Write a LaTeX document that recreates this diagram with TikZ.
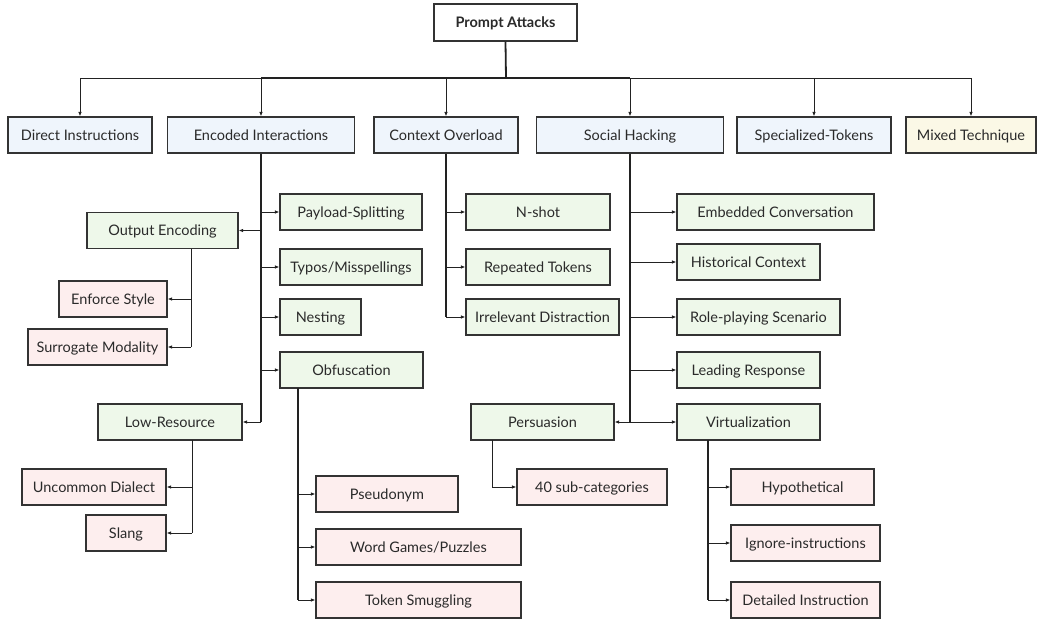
\documentclass[tikz,border=0pt]{standalone}
\usepackage{fontspec}
\setmainfont{Lato}
\usetikzlibrary{arrows.meta}
\definecolor{bluef}{HTML}{EFF5FC}
\definecolor{greenf}{HTML}{EEF8EA}
\definecolor{pinkf}{HTML}{FDEEEE}
\definecolor{yellowf}{HTML}{FBF8E6}
\definecolor{edge}{HTML}{333333}
\definecolor{txt}{HTML}{2A2A2A}
\definecolor{ln}{HTML}{222222}
\tikzset{
  box/.style={draw=edge, line width=1.1pt, minimum height=36pt, inner sep=0pt, text height=10.5pt, text depth=0pt, text=txt, font=\fontsize{14.5}{16}\selectfont},
  bluebox/.style={box, fill=bluef},
  greenbox/.style={box, fill=greenf},
  pinkbox/.style={box, fill=pinkf},
  yellowbox/.style={box, fill=yellowf},
  rootbox/.style={draw=edge, line width=1.1pt, fill=white, minimum height=37pt, inner sep=0pt, text height=10.5pt, text depth=0pt, text=txt, font=\bfseries\fontsize{14.5}{16}\selectfont},
  arr/.style={draw=ln, line width=0.9pt, -{Latex[length=4.5pt,width=3.5pt]}},
  trunk/.style={draw=ln, line width=1.8pt},
  thin/.style={draw=ln, line width=0.9pt},
}
\begin{document}
\begin{tikzpicture}[x=1pt,y=-1pt]
\useasboundingbox (0,0) rectangle (1037,624);
% root
\node[rootbox, minimum width=143pt] (root) at (505.5,22.5) {Prompt Attacks};
% level 1
\node[bluebox, minimum width=144pt] (di) at (80,135) {Direct Instructions};
\node[bluebox, minimum width=187pt] (ei) at (261,135) {Encoded Interactions};
\node[bluebox, minimum width=144pt] (co) at (446,135) {Context Overload};
\node[bluebox, minimum width=187pt] (sh) at (630,135) {Social Hacking};
\node[bluebox, minimum width=154pt] (st) at (814,135) {Specialized-Tokens};
\node[yellowbox, minimum width=130pt] (mt) at (971,135) {Mixed Technique};
% encoded children
\node[greenbox, minimum width=142pt] (ps) at (351,212) {Payload-Splitting};
\node[greenbox, minimum width=151pt] (oe) at (162.5,230.5) {Output Encoding};
\node[greenbox, minimum width=142pt] (ty) at (351,267) {Typos/Misspellings};
\node[greenbox, minimum width=81pt] (ne) at (320.5,317) {Nesting};
\node[greenbox, minimum width=143pt] (ob) at (351.5,370) {Obfuscation};
\node[greenbox, minimum width=144pt] (lr) at (170,422) {Low-Resource};
% output encoding children
\node[pinkbox, minimum width=108pt] (es) at (113,299) {Enforce Style};
\node[pinkbox, minimum width=139pt] (sm) at (97.5,347) {Surrogate Modality};
% low-resource children
\node[pinkbox, minimum width=144pt] (ud) at (94,487) {Uncommon Dialect};
\node[pinkbox, minimum width=80pt] (sl) at (126,533) {Slang};
% obfuscation children
\node[pinkbox, minimum width=142pt] (pn) at (387,494) {Pseudonym};
\node[pinkbox, minimum width=205pt] (wg) at (418.5,547) {Word Games/Puzzles};
\node[pinkbox, minimum width=205pt] (ts) at (418.5,600) {Token Smuggling};
% context children
\node[greenbox, minimum width=144pt] (ns) at (538,212) {N-shot};
\node[greenbox, minimum width=144pt] (rt) at (538,267) {Repeated Tokens};
\node[greenbox, minimum width=153pt] (id) at (542.5,317) {Irrelevant Distraction};
% social children
\node[greenbox, minimum width=197pt] (ec) at (775.5,212) {Embedded Conversation};
\node[greenbox, minimum width=143pt] (hc) at (748.5,262) {Historical Context};
\node[greenbox, minimum width=163pt] (rp) at (758.5,317) {Role-playing Scenario};
\node[greenbox, minimum width=143pt] (lrs) at (748.5,370) {Leading Response};
\node[greenbox, minimum width=143pt] (vi) at (748.5,422) {Virtualization};
\node[greenbox, minimum width=143pt] (pe) at (542.5,422) {Persuasion};
\node[pinkbox, minimum width=150pt] (sc) at (592,487) {40 sub-categories};
\node[pinkbox, minimum width=143pt] (hy) at (802.5,487) {Hypothetical};
\node[pinkbox, minimum width=149pt] (ii) at (805.5,543) {Ignore-instructions};
\node[pinkbox, minimum width=149pt] (dt) at (805.5,600) {Detailed Instruction};

% trunk coordinates
\coordinate (bus) at (506,78);
\coordinate (oeT) at (191,248.5);
\coordinate (lrT) at (192,440);
\coordinate (obT) at (298,388);
\coordinate (peT) at (492,440);
\coordinate (viT) at (708,440);

% root connectors
\draw[trunk] (root.south) -- (bus);
\draw[trunk] (ei.north |- bus) -- (sh.north |- bus);
\draw[arr] (bus) -| (di.north);
\draw[arr] (bus) -| (ei.north);
\draw[arr] (bus) -| (co.north);
\draw[arr] (bus) -| (sh.north);
\draw[arr] (bus) -| (st.north);
\draw[arr] (bus) -| (mt.north);

% encoded
\draw[trunk] (ei.south) -- (ei.south |- lr.east);
\draw[arr] (ei.south |- lr.east) -- (lr.east);
\draw[arr] (ei.south |- ps.west) -- (ps.west);
\draw[arr] (ei.south |- oe.east) -- (oe.east);
\draw[arr] (ei.south |- ty.west) -- (ty.west);
\draw[arr] (ei.south |- ne.west) -- (ne.west);
\draw[arr] (ei.south |- ob.west) -- (ob.west);
% output encoding
\draw[thin] (oeT) -- (oeT |- sm.east);
\draw[arr] (oeT |- es.east) -- (es.east);
\draw[arr] (oeT |- sm.east) -- (sm.east);
% low-resource
\draw[thin] (lrT) -- (lrT |- sl.east);
\draw[arr] (lrT |- ud.east) -- (ud.east);
\draw[arr] (lrT |- sl.east) -- (sl.east);
% obfuscation
\draw[draw=ln, line width=1.3pt] (obT) -- (obT |- ts.west);
\draw[arr] (obT |- pn.west) -- (pn.west);
\draw[arr] (obT |- wg.west) -- (wg.west);
\draw[arr] (obT |- ts.west) -- (ts.west);
% context
\draw[trunk] (co.south) -- (co.south |- id.west);
\draw[arr] (co.south |- ns.west) -- (ns.west);
\draw[arr] (co.south |- rt.west) -- (rt.west);
\draw[arr] (co.south |- id.west) -- (id.west);
% social
\draw[trunk] (sh.south) -- (sh.south |- vi.west);
\draw[arr] (sh.south |- ec.west) -- (ec.west);
\draw[arr] (sh.south |- hc.west) -- (hc.west);
\draw[arr] (sh.south |- rp.west) -- (rp.west);
\draw[arr] (sh.south |- lrs.west) -- (lrs.west);
\draw[arr] (sh.south |- vi.west) -- (vi.west);
\draw[arr] (sh.south |- pe.east) -- (pe.east);
% persuasion
\draw[arr] (peT) |- (sc.west);
% virtualization
\draw[trunk] (viT) -- (viT |- dt.west);
\draw[arr] (viT |- hy.west) -- (hy.west);
\draw[arr] (viT |- ii.west) -- (ii.west);
\draw[arr] (viT |- dt.west) -- (dt.west);
\end{tikzpicture}
\end{document}
